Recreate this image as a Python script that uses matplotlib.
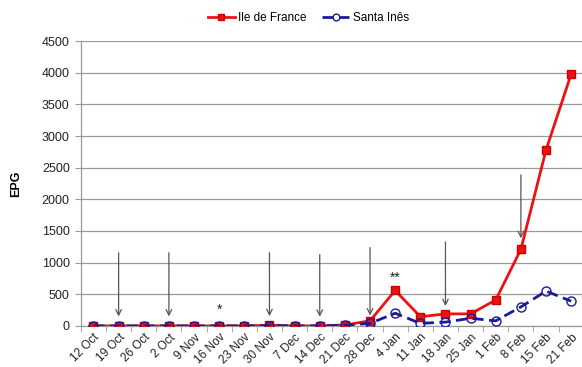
import matplotlib
matplotlib.use("Agg")
import matplotlib.pyplot as plt
import numpy as np

plt.rcParams['font.family'] = ['Liberation Sans', 'DejaVu Sans']

dates = ["12 Oct", "19 Oct", "26 Oct", "2 Oct", "9 Nov", "16 Nov", "23 Nov",
         "30 Nov", "7 Dec", "14 Dec", "21 Dec", "28 Dec", "4 Jan", "11 Jan",
         "18 Jan", "25 Jan", "1 Feb", "8 Feb", "15 Feb", "21 Feb"]
ile_de_france = [0, 0, 0, 0, 0, 0, 0, 10, 0, 0, 15, 80, 560, 145, 190, 190,
                 410, 1210, 2780, 3980]
santa_ines = [0, 0, 0, 0, 0, 0, 0, 5, 0, 0, 10, 40, 200, 40, 60, 120,
              80, 300, 550, 390]

# treatment arrows: (category index, start value, tip value)
arrow_idx = [1, 3, 7, 9, 11, 14, 17]
arrow_top = [1200, 1200, 1200, 1170, 1280, 1370, 2430]
arrow_tip = [105, 105, 110, 100, 120, 270, 1340]

# significance marks
star_idx = [5, 12]
star_text = ["*", "**"]
star_y = [250, 760]

fig = plt.figure(figsize=(5.82, 3.67), dpi=100)
ax = fig.add_axes([0.139, 0.112, 0.864, 0.776])

x = np.arange(len(dates))
ax.set_xlim(-0.5, len(dates) - 0.5)
ax.set_ylim(0, 4500)
ax.set_yticks(np.arange(0, 4501, 500))
ax.yaxis.grid(True, color='#9a9a9a', linewidth=0.9)
ax.set_axisbelow(True)

for s in ['top', 'right']:
    ax.spines[s].set_visible(False)
for s in ['left', 'bottom']:
    ax.spines[s].set_color('#9a9a9a')
    ax.spines[s].set_linewidth(0.9)

ax.set_xticks(x)
ax.set_xticklabels(dates, rotation=45, ha='right', rotation_mode='anchor',
                   fontsize=8.5, color='#222222')
ax.tick_params(axis='x', which='major', length=0, pad=4)
ax.set_xticks(np.arange(-0.5, len(dates), 1), minor=True)
ax.tick_params(axis='x', which='minor', length=4, color='#9a9a9a')
ax.tick_params(axis='y', length=4, color='#9a9a9a', labelsize=9,
               labelcolor='#222222', pad=4)
ax.set_ylabel("EPG", fontsize=9, fontweight='bold', labelpad=14)

ax.plot(x, ile_de_france, color='#ee1111', linewidth=2, marker='s',
        markersize=6, markerfacecolor='#ee1111', markeredgecolor='#cc0000',
        label='Ile de France', zorder=3)
ax.plot(x, santa_ines, color='#1a1a9a', linewidth=2, linestyle=(0, (4, 2)),
        marker='o', markersize=6.5, markerfacecolor='none',
        markeredgecolor='#1a1a9a', label='Santa Inês', zorder=4)

for i, top, tip in zip(arrow_idx, arrow_top, arrow_tip):
    ax.annotate("", xy=(i, tip), xytext=(i, top),
                arrowprops=dict(arrowstyle='->', color='#555555', lw=0.9,
                                mutation_scale=10), zorder=5)

for i, t, y in zip(star_idx, star_text, star_y):
    ax.text(i, y, t, ha='center', va='center', fontsize=10, color='#222222')

leg = fig.legend(loc='upper center', bbox_to_anchor=(0.53, 0.995), ncol=2,
                 frameon=False, fontsize=8.5, handlelength=2.3,
                 columnspacing=1.3, handletextpad=0.3, markerscale=0.75)

fig.savefig("out.png", dpi=100)
